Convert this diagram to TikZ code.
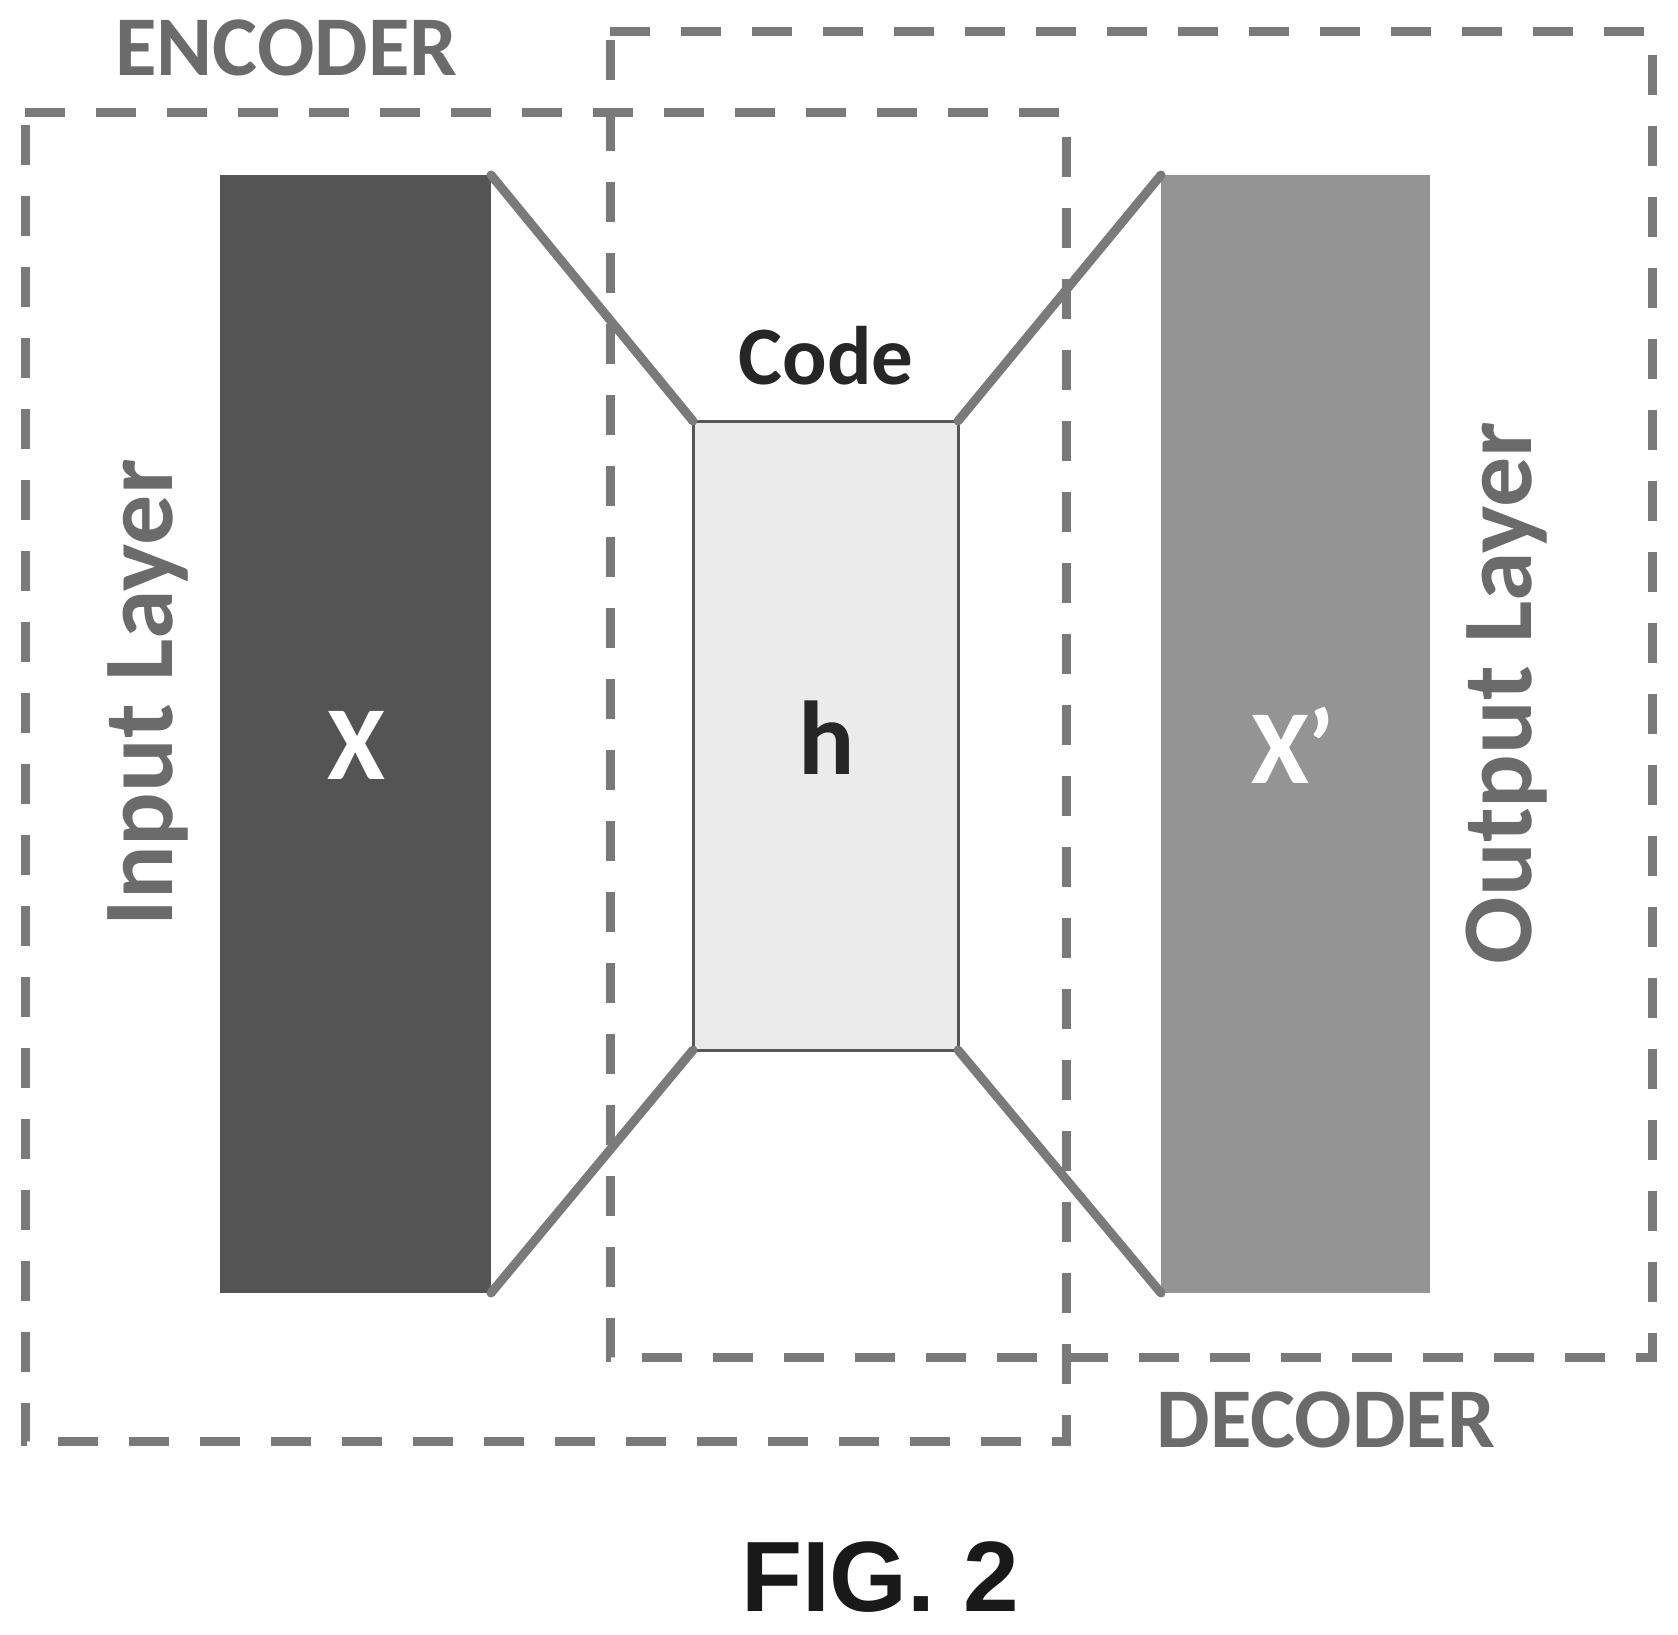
\documentclass[tikz,border=0pt]{standalone}
\usepackage{xcolor}
\usepackage{fontspec}
\setmainfont{Carlito}
\newfontfamily\figfont{Liberation Sans}
\definecolor{lninput}{gray}{0.33}
\definecolor{lncode}{gray}{0.92}
\definecolor{lnoutput}{gray}{0.58}
\definecolor{lnframe}{gray}{0.48}
\definecolor{lntext}{gray}{0.42}

\begin{document}
\begin{tikzpicture}[
    x=1pt, y=-1pt,
    layer/.style={rectangle, inner sep=0pt, outer sep=0pt, minimum width=#1, minimum height=1118pt},
    groupbox/.style={rectangle, inner sep=0pt, outer sep=0pt},
    groupline/.style={draw=lnframe, line width=9pt, dash pattern=on 40pt off 31pt},
    link/.style={line width=9pt, color=lnframe, line cap=round},
    caption/.style={font=\fontsize{#1}{#1}\selectfont\bfseries, text=lntext, inner sep=0pt}
]
\useasboundingbox (0,0) rectangle (1678,1635);

% Layers
\node[layer=271pt, fill=lninput] (input) at (355.5,734) {};
\node[layer=269pt, fill=lnoutput] (output) at (1295.5,734) {};
\node[rectangle, draw=lnframe!70!black, line width=3pt, fill=lncode, inner sep=0pt, outer sep=0pt, minimum width=265pt, minimum height=629pt] (code) at (825.5,735.5) {};

% Funnel
\draw[link] (input.north east) -- (code.north west);
\draw[link] (input.south east) -- (code.south west);
\draw[link] (output.north west) -- (code.north east);
\draw[link] (output.south west) -- (code.south east);

% Dashed groups
\node[groupbox, minimum width=1041pt, minimum height=1328pt] (encoder) at (545.5,777) {};
\node[groupbox, minimum width=1042pt, minimum height=1325pt] (decoder) at (1131,694.5) {};
\draw[groupline] (encoder.north west) -- (encoder.north east) -- (encoder.south east) -- (encoder.south west) -- cycle;
\draw[groupline] (decoder.north west) -- (decoder.north east) -- (decoder.south east) -- (decoder.south west) -- cycle;

% Labels
\node[caption=85pt] (encoderlabel) at (286.5,48) {ENCODER};
\node[caption=85pt] (decoderlabel) at (1326,1420) {DECODER};
\node[caption=83pt, text=black!85] (codelabel) at (826,356) {Code};
\node[caption=100pt, rotate=90] (inputlabel) at (148,693) {Input Layer};
\node[caption=100pt, rotate=90] (outputlabel) at (1507,693) {Output Layer};
\node[caption=105pt, text=white] (xlabel) at (356,745) {X};
\node[caption=105pt, text=black!85] (hlabel) at (827,738) {h};
\node[caption=105pt, text=white] (xprimelabel) at (1293,745) {X’};
\node[font=\fontsize{100pt}{100pt}\figfont\bfseries, text=black!90, inner sep=0pt] (figlabel) at (880,1577) {FIG. 2};

\end{tikzpicture}
\end{document}
